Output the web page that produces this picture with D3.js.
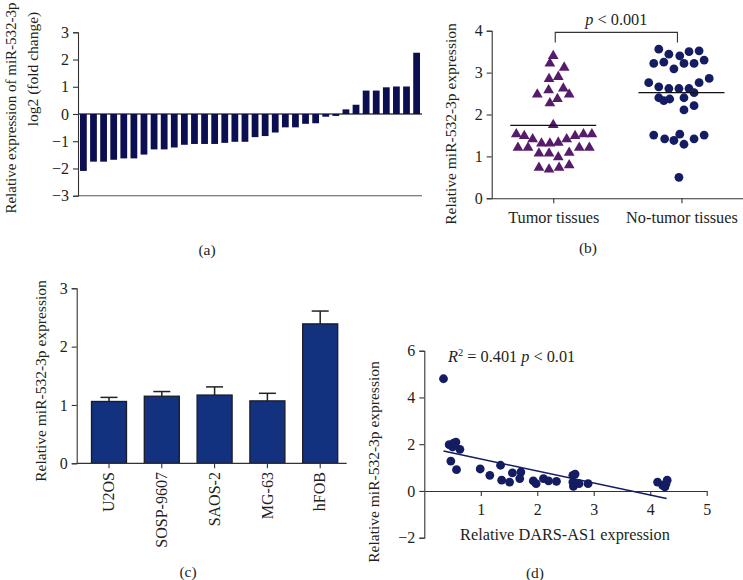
<!DOCTYPE html>
<html><head><meta charset="utf-8">
<script src="https://cdn.jsdelivr.net/npm/d3@7"></script>
<style>
body{margin:0;background:#fff;}
text{font-family:"Liberation Serif","Times New Roman",serif;fill:#231f20;}
</style></head>
<body>
<svg id="c" width="743" height="580"></svg>
<script>
// ---------- DATA ----------
// (a) log2 fold change per sample (sorted)
const foldChange = [-2.09,-1.75,-1.75,-1.68,-1.63,-1.63,-1.49,-1.30,-1.30,-1.23,-1.13,-1.10,-1.10,-1.10,
  -1.06,-1.02,-1.02,-0.85,-0.81,-0.68,-0.49,-0.49,-0.36,-0.34,-0.10,-0.07,0.17,0.34,0.86,0.86,0.98,1.01,1.01,2.25];
const foldTicks = [-3,-2,-1,0,1,2,3];

// (b) scatter of tissues
const tissueCats = ["Tumor tissues","No-tumor tissues"];
const tumorVals = [3.40,3.22,3.12,2.85,2.90,2.48,2.58,2.62,2.48,2.37,2.27,1.75,1.53,1.49,1.41,1.31,1.31,1.33,1.41,1.49,1.53,1.53,
  1.21,1.21,1.07,1.07,0.98,1.09,1.21,1.21,0.73,0.69,0.73,0.79];
const tumorSlot = [0,-0.4,1.3,-0.5,0.6,-1.9,-0.55,1.2,1.9,0.5,-0.4,0,-4.4,-3.45,-2.45,-1.4,-0.4,0.6,1.6,2.6,3.6,4.6,
  -4.2,-3.0,-1.7,-0.5,0.6,1.9,3.1,4.3,-1.7,-0.5,0.7,1.9];
const normalVals = [3.56,3.44,3.40,3.50,3.52,3.22,3.25,3.09,3.22,3.22,3.30,2.76,2.66,2.62,2.62,2.62,2.76,2.86,2.52,2.40,2.33,2.37,2.40,2.11,2.21,
  1.51,1.42,1.38,1.53,1.29,1.42,1.51,0.50];
const normalSlot = [-2.7,-1.5,-0.2,0.9,2.1,-3.3,-2.1,-0.9,0.3,1.5,2.7,-3.9,-2.7,-1.5,-0.3,0.9,2.1,3.3,1.5,-2.7,-2.1,-1.4,0.3,0.3,1.5,
  -3.3,-2.0,-0.9,-0.2,0.3,1.5,2.7,-0.3];
const groupMeans = [1.74,2.52];
const bracketLevels = [3.96,3.72];
const tissueTicks = [0,1,2,3,4];

// (c) cell lines
const cellLines = ["U2OS","SOSP-9607","SAOS-2","MG-63","hFOB"];
const cellMeans = [1.06,1.15,1.17,1.07,2.39];
const cellErr = [0.07,0.08,0.14,0.13,0.22];
const cellTicks = [0,1,2,3];

// (d) correlation
const darsX = [0.34,0.44,0.52,0.56,0.50,0.63,0.47,0.57,0.99,1.16,1.35,1.37,1.51,1.56,1.71,1.69,1.93,1.98,2.11,2.20,2.34,
  2.63,2.67,2.63,2.64,2.74,2.90,4.13,4.22,4.26,4.30,4.28];
const mirY = [4.80,1.98,2.05,2.09,1.88,1.78,1.28,0.91,0.94,0.67,1.10,0.46,0.38,0.77,0.81,0.53,0.43,0.31,0.53,0.43,0.41,
  0.67,0.72,0.38,0.20,0.31,0.31,0.38,0.24,0.17,0.46,0.31];
const fitSlope = -0.515, fitIntercept = 1.883, fitRange = [0.34,4.29];
const corrXTicks = [1,2,3,4,5];
const corrYTicks = [-2,0,2,4,6];

// ---------- DRAW ----------
const svg = d3.select("#c");
const AX = "#333";
const TICK_FS = 16, LAB_FS = 15.5;
const fmt = d => d < 0 ? "\u2212" + (-d) : String(d);
function styleAxis(g){ g.selectAll("path,line").attr("stroke",AX).attr("stroke-width",1.1); g.selectAll("text").attr("font-family","Liberation Serif").attr("fill","#231f20"); }

// ===== (a) =====
{
  const y = d3.scaleLinear().domain([-3,3]).range([195.7,32.3]);
  const x = d3.scaleBand().domain(d3.range(foldChange.length)).range([79,421]).paddingInner(0.33).paddingOuter(0.1);
  const g = svg.append("g");
  g.append("line").attr("x1",78).attr("x2",422).attr("y1",y(0)).attr("y2",y(0)).attr("stroke","#444").attr("stroke-width",1.3);
  g.append("line").attr("x1",78).attr("x2",422).attr("y1",y(-3)).attr("y2",y(-3)).attr("stroke","#555").attr("stroke-width",1.1);
  g.selectAll("rect").data(foldChange).join("rect")
    .attr("x",(d,i)=>x(i)).attr("width",x.bandwidth())
    .attr("y",d=>y(Math.max(0,d))).attr("height",d=>Math.abs(y(d)-y(0)))
    .attr("fill","#0b0e50");
  const ax = g.append("g").attr("transform","translate(78,0)").call(d3.axisLeft(y).tickValues(foldTicks).tickSize(5).tickPadding(4).tickFormat(fmt));
  ax.selectAll("text").attr("font-size",TICK_FS);
  styleAxis(ax);
  g.append("text").attr("transform","translate(13,108) rotate(-90)").attr("text-anchor","middle").attr("dominant-baseline","middle").attr("font-size",15).text("Relative expression of miR-532-3p");
  g.append("text").attr("transform","translate(34,69) rotate(-90)").attr("text-anchor","middle").attr("dominant-baseline","middle").attr("font-size",LAB_FS).text("log2 (fold change)");
  g.append("text").attr("x",207).attr("y",255).attr("text-anchor","middle").attr("font-size",LAB_FS).text("(a)");
}

// ===== (b) =====
{
  const y = d3.scaleLinear().domain([0,4]).range([198.3,30.7]);
  const x = d3.scalePoint().domain(tissueCats).range([491.7,743]).padding(0.48);
  const slotW = 8.4;
  const g = svg.append("g");
  const ay = g.append("g").attr("transform","translate(491.7,0)").call(d3.axisLeft(y).tickValues(tissueTicks).tickSize(5).tickPadding(4).tickFormat(fmt));
  ay.selectAll("text").attr("font-size",TICK_FS);
  styleAxis(ay);
  const axx = g.append("g").attr("transform",`translate(0,${y(0)})`).call(d3.axisBottom(x).tickSize(5).tickPadding(8).tickSizeOuter(0));
  axx.selectAll("text").attr("font-size",16.3);
  styleAxis(axx);
  const tri = d3.symbol().type(d3.symbolTriangle).size(50);
  g.selectAll("path.tri").data(tumorVals).join("path").attr("class","tri")
    .attr("d",tri).attr("fill","#561c6b")
    .attr("transform",(d,i)=>`translate(${x(tissueCats[0])+tumorSlot[i]*slotW},${y(d)})`);
  g.selectAll("circle.nt").data(normalVals).join("circle").attr("class","nt")
    .attr("cx",(d,i)=>x(tissueCats[1])+normalSlot[i]*slotW).attr("cy",d=>y(d)).attr("r",4.4).attr("fill","#141c62");
  const hw = 43;
  g.selectAll("line.mean").data(groupMeans).join("line").attr("class","mean")
    .attr("x1",(d,i)=>x(tissueCats[i])-hw).attr("x2",(d,i)=>x(tissueCats[i])+hw)
    .attr("y1",d=>y(d)).attr("y2",d=>y(d)).attr("stroke","#111").attr("stroke-width",1.3);
  const bx1 = x(tissueCats[0])+2, bx2 = x(tissueCats[1])-4;
  g.append("path").attr("d",`M${bx1},${y(bracketLevels[1])}V${y(bracketLevels[0])}H${bx2}V${y(bracketLevels[1])}`)
    .attr("fill","none").attr("stroke","#333").attr("stroke-width",1.1);
  const t = g.append("text").attr("x",(bx1+bx2)/2).attr("y",y(bracketLevels[0])-7).attr("text-anchor","middle").attr("font-size",16.3);
  t.append("tspan").attr("font-style","italic").text("p");
  t.append("tspan").text(" < 0.001");
  g.append("text").attr("transform","translate(452,124) rotate(-90)").attr("text-anchor","middle").attr("dominant-baseline","middle").attr("font-size",LAB_FS).text("Relative miR-532-3p expression");
  g.append("text").attr("x",588).attr("y",253).attr("text-anchor","middle").attr("font-size",LAB_FS).text("(b)");
}

// ===== (c) =====
{
  const y = d3.scaleLinear().domain([0,3]).range([463.3,288.3]);
  const x = d3.scaleBand().domain(cellLines).range([82.6,346.6]).paddingInner(0.337).paddingOuter(0.1685);
  const g = svg.append("g");
  g.selectAll("line.eb").data(cellMeans).join("line").attr("class","eb")
    .attr("x1",(d,i)=>x(cellLines[i])+x.bandwidth()/2).attr("x2",(d,i)=>x(cellLines[i])+x.bandwidth()/2)
    .attr("y1",d=>y(d)).attr("y2",(d,i)=>y(d+cellErr[i])).attr("stroke","#222").attr("stroke-width",1.5);
  g.selectAll("line.cap").data(cellMeans).join("line").attr("class","cap")
    .attr("x1",(d,i)=>x(cellLines[i])+x.bandwidth()/2-8.5).attr("x2",(d,i)=>x(cellLines[i])+x.bandwidth()/2+8.5)
    .attr("y1",(d,i)=>y(d+cellErr[i])).attr("y2",(d,i)=>y(d+cellErr[i])).attr("stroke","#222").attr("stroke-width",1.5);
  g.selectAll("rect").data(cellMeans).join("rect")
    .attr("x",(d,i)=>x(cellLines[i])).attr("width",x.bandwidth())
    .attr("y",d=>y(d)).attr("height",d=>y(0)-y(d))
    .attr("fill","#12317f").attr("stroke","#1a1a2a").attr("stroke-width",1.3);
  const ay = g.append("g").attr("transform","translate(76.7,0)").call(d3.axisLeft(y).tickValues(cellTicks).tickSize(5).tickPadding(4).tickFormat(fmt));
  ay.selectAll("text").attr("font-size",TICK_FS);
  styleAxis(ay);
  g.append("line").attr("x1",76.7).attr("x2",346.7).attr("y1",y(0)).attr("y2",y(0)).attr("stroke",AX).attr("stroke-width",1.3);
  const axx = g.append("g").attr("transform",`translate(0,${y(0)})`).call(d3.axisBottom(x).tickSize(5).tickPadding(4));
  axx.select(".domain").remove();
  axx.selectAll("text").attr("font-size",16).attr("transform","rotate(-90)").attr("text-anchor","end").attr("dx","-0.55em").attr("dy","0.32em").attr("x",0).attr("y",0);
  styleAxis(axx);
  g.append("text").attr("transform","translate(42,381) rotate(-90)").attr("text-anchor","middle").attr("dominant-baseline","middle").attr("font-size",LAB_FS).text("Relative miR-532-3p expression");
  g.append("text").attr("x",188).attr("y",577).attr("text-anchor","middle").attr("font-size",LAB_FS).text("(c)");
}

// ===== (d) =====
{
  const x = d3.scaleLinear().domain([0,5]).range([424.3,706.7]);
  const y = d3.scaleLinear().domain([-2,6]).range([537.7,350.7]);
  const g = svg.append("g");
  const ay = g.append("g").attr("transform","translate(424.3,0)").call(d3.axisLeft(y).tickValues(corrYTicks).tickSize(5).tickPadding(4).tickFormat(fmt));
  ay.selectAll("text").attr("font-size",TICK_FS);
  styleAxis(ay);
  const axx = g.append("g").attr("transform",`translate(0,${y(0)})`).call(d3.axisBottom(x).tickValues(corrXTicks).tickSize(5).tickPadding(8).tickSizeOuter(0).tickFormat(fmt));
  axx.selectAll("text").attr("font-size",TICK_FS);
  styleAxis(axx);
  g.selectAll("circle").data(darsX).join("circle")
    .attr("cx",d=>x(d)).attr("cy",(d,i)=>y(mirY[i])).attr("r",4.4).attr("fill","#141c62");
  g.append("line").attr("x1",x(fitRange[0])).attr("x2",x(fitRange[1]))
    .attr("y1",y(fitIntercept+fitSlope*fitRange[0])).attr("y2",y(fitIntercept+fitSlope*fitRange[1]))
    .attr("stroke","#141c62").attr("stroke-width",1.5);
  const t = g.append("text").attr("x",448).attr("y",362).attr("font-size",16.3);
  t.append("tspan").attr("font-style","italic").text("R");
  t.append("tspan").attr("font-size",10.5).attr("dy",-6).text("2");
  t.append("tspan").attr("dy",6).text(" = 0.401 ");
  t.append("tspan").attr("font-style","italic").text("p");
  t.append("tspan").text(" < 0.01");
  g.append("text").attr("x",565).attr("y",540).attr("text-anchor","middle").attr("font-size",16.3).text("Relative DARS-AS1 expression");
  g.append("text").attr("transform","translate(375,462) rotate(-90)").attr("text-anchor","middle").attr("dominant-baseline","middle").attr("font-size",LAB_FS).text("Relative miR-532-3p expression");
  g.append("text").attr("x",535).attr("y",578).attr("text-anchor","middle").attr("font-size",LAB_FS).text("(d)");
}
</script>
</body></html>
